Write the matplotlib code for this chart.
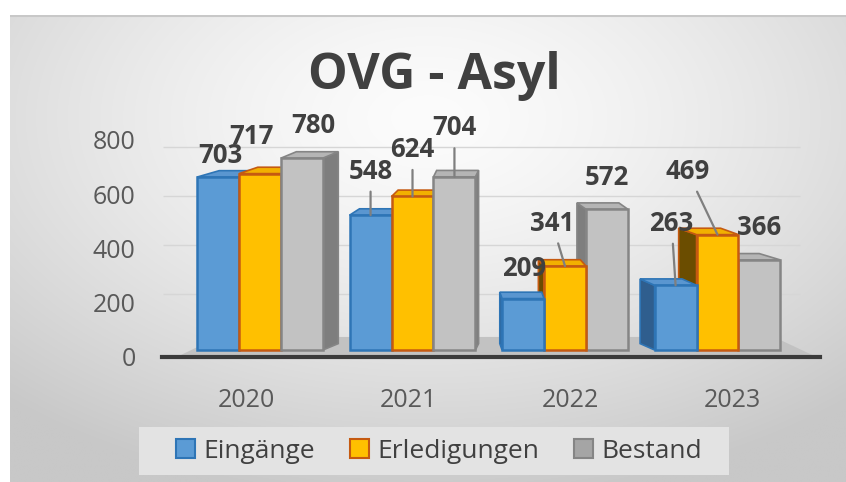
import numpy as np
import matplotlib
matplotlib.use("Agg")
import matplotlib.pyplot as plt
from matplotlib.patches import Polygon, Rectangle, Patch

# ---------------- data ----------------
years = ["2020", "2021", "2022", "2023"]
eingaenge = [703, 548, 209, 263]
erledigungen = [717, 624, 341, 469]
bestand = [780, 704, 572, 366]
series_names = ["Eingänge", "Erledigungen", "Bestand"]
y_ticks = [0, 200, 400, 600, 800]
title = "OVG - Asyl"

# ---------------- layout / style ----------------
W, H = 846, 482
FONT = ["Open Sans", "DejaVu Sans"]
plt.rcParams["font.family"] = FONT

styles = [
    dict(front="#5B9BD5", edge="#2E75B6", side="#2F5E8E", top="#5A96D0", legend="#5B9BD5"),
    dict(front="#FFC000", edge="#C55A11", side="#6B4D00", top="#F2B000", legend="#FFC000"),
    dict(front="#C2C2C2", edge="#858585", side="#7E7E7E", top="#B5B5B5", legend="#A5A5A5"),
]
# label offsets (display pixels, right / up) and leader-line flags per year & series
label_offsets = [[(2, 22), (-9, 37), (11, 33)],
                 [(0, 44), (0, 47), (0, 49)],
                 [(1, 30), (-13, 43), (0, 32)],
                 [(-4, 62), (-30, 63), (0, 32)]]
leaders = [[0, 0, 0], [1, 1, 1], [0, 1, 0], [1, 1, 0]]

bar_w = 0.275
vx = 1.535      # perspective vanishing x (data units)
k_depth = 0.08
depth_y = 26


def frac(x0, y0, x1, y1):
    return [x0 / W, 1 - y1 / H, (x1 - x0) / W, (y1 - y0) / H]


fig = plt.figure(figsize=(W / 100, H / 100), dpi=100)
fig.patch.set_facecolor("white")

# background gradient (chart area)
ax_bg = fig.add_axes(frac(10, 15, 846, 482))
ax_bg.set_zorder(-2)
gy, gx = np.mgrid[0:1:300j, 0:1:500j]
r = np.sqrt(((gx - 0.5) / 1.0) ** 2 + ((gy - 0.22) / 1.1) ** 2)
val = 252 - 52 * np.clip(r / 0.75, 0, 1) ** 1.4
img = np.dstack([val, val, val]) / 255.0
ax_bg.imshow(img, aspect="auto", extent=[0, 1, 1, 0], interpolation="bilinear")
ax_bg.set_xlim(0, 1)
ax_bg.set_ylim(1, 0)
ax_bg.axis("off")
ax_bg.plot([0, 1], [0.003, 0.003], color="#c8c8c8", lw=1.5)

# tick/label axes
ax_t = fig.add_axes(frac(162, 120, 820, 357))
ax_t.set_facecolor("none")
ax_t.set_xlim(-0.5185, 3.543)
ax_t.set_ylim(3.67, 873.4)
for s in ax_t.spines.values():
    s.set_visible(False)
ax_t.set_yticks(y_ticks)
ax_t.set_yticklabels([str(t) for t in y_ticks])
ax_t.set_xticks(range(len(years)))
ax_t.set_xticklabels(years)
ax_t.tick_params(axis="y", length=0, pad=19, labelsize=18, labelcolor="#595959")
ax_t.tick_params(axis="x", length=0, pad=22, labelsize=18, labelcolor="#595959")

# main axes for the 3D-like bars
ax = fig.add_axes(frac(162, 120, 820, 357))
ax.set_facecolor("none")
ax.set_xlim(-0.6426, 3.672)
ax.set_ylim(-28.5, 935)
for name, s in ax.spines.items():
    s.set_visible(name == "bottom")
ax.spines["bottom"].set_linewidth(3)
ax.spines["bottom"].set_color("#3a3a3a")
ax.set_xticks([])
ax.set_yticks([])

# back wall gridlines
ax.hlines([t + depth_y for t in y_ticks[1:]], -0.636, 3.54, color="#d6d6d6", lw=1, zorder=0)

# floor
fx0, fx1 = -0.518, 3.62
kf = 0.12
floor = Polygon([(fx0, -20), (fx1, -20), (fx1 + kf * (vx - fx1), 53), (fx0 + kf * (vx - fx0), 53)],
                closed=True, facecolor="#c2c2c2", edgecolor="none", zorder=1)
ax.add_patch(floor)

values = [eingaenge, erledigungen, bestand]
offs = [-bar_w, 0, bar_w]
items = []
for si, vals in enumerate(values):
    for yi, v in enumerate(vals):
        xc = yi + offs[si]
        items.append((abs(xc - vx), xc, v, si, yi))
items.sort(key=lambda t: -t[0])

z = 2
for _, xc, h, si, yi in items:
    st = styles[si]
    x0, x1 = xc - bar_w / 2, xc + bar_w / 2
    dx = k_depth * (vx - xc)
    dy = depth_y
    if dx >= 0:
        side = [(x1, 0), (x1, h), (x1 + dx, h + dy), (x1 + dx, dy)]
    else:
        side = [(x0, 0), (x0, h), (x0 + dx, h + dy), (x0 + dx, dy)]
    topf = [(x0, h), (x1, h), (x1 + dx, h + dy), (x0 + dx, h + dy)]
    ax.add_patch(Polygon(side, closed=True, facecolor=st["side"], edgecolor=st["edge"], lw=1.2, zorder=z))
    ax.add_patch(Polygon(topf, closed=True, facecolor=st["top"], edgecolor=st["edge"], lw=1.2, zorder=z))
    ax.add_patch(Rectangle((x0, 0), bar_w, h, facecolor=st["front"], edgecolor=st["edge"], lw=1.8, zorder=z + 1))
    z += 2

# data labels
for si, vals in enumerate(values):
    for yi, v in enumerate(vals):
        xc = yi + offs[si]
        ox, oy = label_offsets[yi][si]
        kw = {}
        if leaders[yi][si]:
            kw["arrowprops"] = dict(arrowstyle="-", color="#7f7f7f", lw=1.6, shrinkA=3, shrinkB=0)
        ax.annotate(str(v), xy=(xc, v), xytext=(ox, oy), textcoords="offset pixels",
                    ha="center", va="center", fontsize=18.5, fontweight="bold",
                    color="#404040", zorder=100, annotation_clip=False, **kw)

# title
fig.text(434 / W, 1 - 89 / H, title, ha="center", va="baseline", fontsize=36,
         fontweight="bold", color="#404040")

# legend background + legend
fig.patches.append(Rectangle((139 / W, 1 - 475 / H), 590 / W, 48 / H, transform=fig.transFigure,
                             facecolor="#e3e3e3", edgecolor="none", zorder=1))
handles = [Patch(facecolor=st["legend"], edgecolor=st["edge"], lw=1.5) for st in styles]
leg = fig.legend(handles, series_names, loc="center", bbox_to_anchor=(439 / W, 1 - 451 / H),
                 ncol=3, frameon=False, fontsize=19, handlelength=0.72, handleheight=0.72,
                 handletextpad=0.34, columnspacing=1.3, labelcolor="#404040")
leg.set_zorder(5)

fig.savefig("out.png", dpi=100, facecolor="white")
